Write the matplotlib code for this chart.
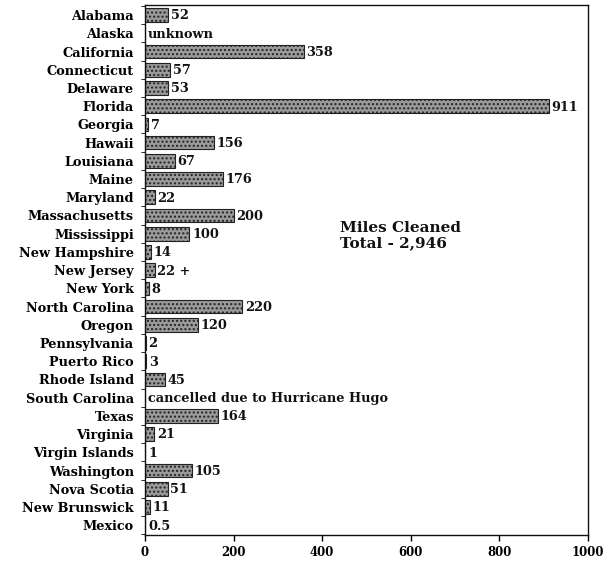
import numpy as np
import matplotlib
matplotlib.use("Agg")
import matplotlib.pyplot as plt

states = ["Alabama", "Alaska", "California", "Connecticut", "Delaware", "Florida",
          "Georgia", "Hawaii", "Louisiana", "Maine", "Maryland", "Massachusetts",
          "Mississippi", "New Hampshire", "New Jersey", "New York", "North Carolina",
          "Oregon", "Pennsylvania", "Puerto Rico", "Rhode Island", "South Carolina",
          "Texas", "Virginia", "Virgin Islands", "Washington", "Nova Scotia",
          "New Brunswick", "Mexico"]
miles = [52, np.nan, 358, 57, 53, 911, 7, 156, 67, 176, 22, 200, 100, 14, 22, 8,
         220, 120, 2, 3, 45, np.nan, 164, 21, 1, 105, 51, 11, 0.5]
value_labels = ["52", "unknown", "358", "57", "53", "911", "7", "156", "67", "176",
                "22", "200", "100", "14", "22 +", "8", "220", "120", "2", "3", "45",
                "cancelled due to Hurricane Hugo", "164", "21", "1", "105", "51",
                "11", "0.5"]
xticks = [0, 200, 400, 600, 800, 1000]
note = "Miles Cleaned\nTotal - 2,946"

plt.rcParams['font.family'] = ['DejaVu Serif']

fig = plt.figure(figsize=(6.08, 5.61), dpi=100)
ax = fig.add_axes([0.2385, 0.046, 0.967 - 0.2385, 0.991 - 0.046])

y = np.arange(len(states))
vals = np.nan_to_num(np.array(miles, dtype=float), nan=0.0)
ax.barh(y, vals, height=0.75, color="#9a9a9a", edgecolor="#222222", linewidth=0.8,
        hatch="....")
for yi, v, lab in zip(y, vals, value_labels):
    ax.text(v + 6, yi + 0.05, lab, va="center", ha="left", fontsize=9.3,
            fontweight="bold", color="#111")

ax.set_ylim(len(states) - 0.45, -0.55)
ax.set_xlim(0, 1000)
ax.set_yticks(y)
ax.set_yticklabels(states, fontsize=9.3, fontweight="bold")
ax.set_yticks(np.arange(len(states) + 1) - 0.5, minor=True)
ax.tick_params(axis="y", which="major", length=0, pad=8)
ax.tick_params(axis="y", which="minor", length=3, direction="out")
ax.set_xticks(xticks)
ax.set_xticklabels([str(t) for t in xticks], fontsize=8.5, fontweight="bold")
ax.tick_params(axis="x", length=4, direction="out", width=1, pad=4)
for s in ax.spines.values():
    s.set_linewidth(1.0)
    s.set_color("#111")

ax.text(440, 12.1, note, fontsize=11, fontweight="bold", va="center", ha="left",
        linespacing=1.05, color="#111")

fig.savefig("out.png", dpi=100)
